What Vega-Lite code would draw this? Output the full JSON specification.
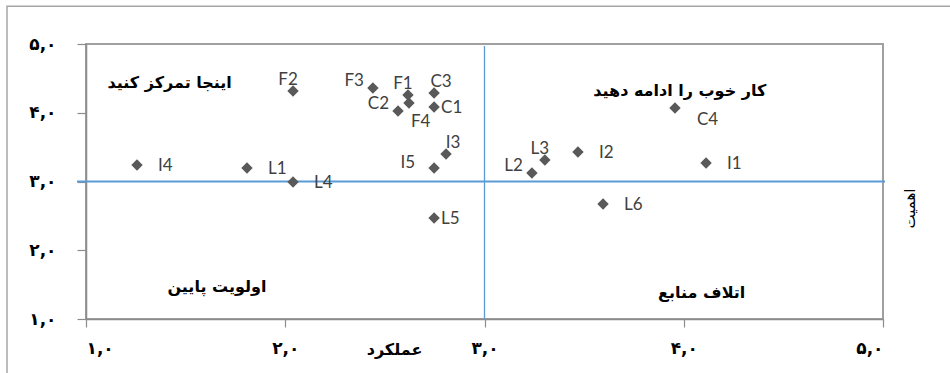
{
  "$schema": "https://vega.github.io/schema/vega-lite/v6.json",
  "autosize": {"type": "none"},
  "width": 797,
  "height": 275,
  "padding": {"left": 86, "top": 44, "right": 67, "bottom": 54},
  "background": "white",
  "config": {
    "view": {"stroke": "#a0a0a0", "strokeWidth": 2},
    "axis": {"grid": false}
  },
  "datasets": {
    "points": [
      {"label": "I4", "performance": 1.256, "importance": 3.24},
      {"label": "L1", "performance": 1.808, "importance": 3.196},
      {"label": "F2", "performance": 2.039, "importance": 4.316},
      {"label": "L4", "performance": 2.039, "importance": 2.993},
      {"label": "F3", "performance": 2.44, "importance": 4.36},
      {"label": "F1", "performance": 2.616, "importance": 4.258},
      {"label": "F4", "performance": 2.621, "importance": 4.142},
      {"label": "C2", "performance": 2.566, "importance": 4.025},
      {"label": "C3", "performance": 2.747, "importance": 4.287},
      {"label": "C1", "performance": 2.747, "importance": 4.084},
      {"label": "I3", "performance": 2.807, "importance": 3.4},
      {"label": "I5", "performance": 2.747, "importance": 3.196},
      {"label": "L5", "performance": 2.747, "importance": 2.469},
      {"label": "L2", "performance": 3.238, "importance": 3.124},
      {"label": "L3", "performance": 3.303, "importance": 3.313},
      {"label": "I2", "performance": 3.469, "importance": 3.429},
      {"label": "C4", "performance": 3.956, "importance": 4.069},
      {"label": "I1", "performance": 4.112, "importance": 3.269},
      {"label": "L6", "performance": 3.595, "importance": 2.673}
    ],
    "notes": [
      {"note": "اینجا تمرکز کنید", "performance": 1.42, "importance": 4.43},
      {"note": "کار خوب را ادامه دهید", "performance": 3.98, "importance": 4.32},
      {"note": "اولویت پایین", "performance": 1.657, "importance": 1.465},
      {"note": "اتلاف منابع", "performance": 4.09, "importance": 1.378}
    ],
    "refs": [
      {"perfMean": 3, "impMean": 3}
    ]
  },
  "layer": [
    {
      "data": {"name": "refs"},
      "mark": {"type": "rule", "color": "#5B9BD5", "strokeWidth": 1.3},
      "encoding": {
        "x": {
          "field": "perfMean", "type": "quantitative",
          "scale": {"domain": [1, 5], "nice": false, "zero": false},
          "axis": {
            "values": [1, 2, 3, 4, 5],
            "labelExpr": "['۰','۱','۲','۳','۴','۵','۶','۷','۸','۹'][floor(datum.value)] + ',' + '۰'",
            "labelFont": "DejaVu Sans", "labelFontSize": 17, "labelFontWeight": "bold", "labelColor": "#000000", "labelPadding": 13,
            "domainColor": "#8c8c8c", "domainWidth": 1.5, "tickColor": "#8c8c8c", "tickSize": 8, "tickWidth": 1.2,
            "title": "عملکرد", "titleFont": "DejaVu Sans", "titleFontSize": 16, "titleFontWeight": "bold",
            "titleColor": "#000000", "titleX": 308, "titleY": 30, "titleBaseline": "middle", "titleAlign": "center"
          }
        },
        "y": {
          "datum": 4.97,
          "type": "quantitative",
          "scale": {"domain": [1, 5], "nice": false, "zero": false},
          "axis": {
            "values": [1, 2, 3, 4, 5],
            "labelExpr": "['۰','۱','۲','۳','۴','۵','۶','۷','۸','۹'][floor(datum.value)] + ',' + '۰'",
            "labelFont": "DejaVu Sans", "labelFontSize": 17, "labelFontWeight": "bold", "labelColor": "#000000", "labelPadding": 21,
            "domainColor": "#8c8c8c", "domainWidth": 1.5, "tickColor": "#8c8c8c", "tickSize": 9, "tickWidth": 1.2,
            "title": "اهمیت", "titleFont": "DejaVu Sans", "titleFontSize": 15, "titleFontWeight": "normal",
            "titleColor": "#000000", "titleX": 823, "titleY": 164, "titleAngle": 270,
            "titleBaseline": "middle", "titleAlign": "center"
          }
        },
        "y2": {"datum": 1}
      }
    },
    {
      "data": {"name": "refs"},
      "mark": {"type": "rule", "color": "#5B9BD5", "strokeWidth": 2},
      "encoding": {
        "y": {"field": "impMean", "type": "quantitative"},
        "x": {"datum": 0.955},
        "x2": {"datum": 5.01}
      }
    },
    {
      "data": {"name": "refs"},
      "mark": {"type": "rect", "fillOpacity": 0, "fill": "white", "stroke": "#a6a6a6", "strokeWidth": 1.5},
      "encoding": {
        "x": {"datum": 0.6035}, "x2": {"datum": 6},
        "y": {"datum": 5.55}, "y2": {"datum": -1}
      }
    },
    {
      "data": {"name": "points"},
      "mark": {"type": "point", "shape": "diamond", "filled": true, "size": 130, "color": "#595959", "opacity": 1},
      "encoding": {
        "x": {"field": "performance", "type": "quantitative"},
        "y": {"field": "importance", "type": "quantitative"}
      }
    },
    {
      "data": {"name": "points"},
      "transform": [{"filter": {"field": "label", "oneOf": ["I4", "L1", "L4", "I2", "I1", "L6"]}}],
      "mark": {"type": "text", "align": "left", "baseline": "middle", "dx": 21, "dy": 1, "font": "Lato", "fontSize": 17, "color": "#404040"},
      "encoding": {"x": {"field": "performance", "type": "quantitative"}, "y": {"field": "importance", "type": "quantitative"}, "text": {"field": "label"}}
    },
    {
      "data": {"name": "points"},
      "transform": [{"filter": {"field": "label", "oneOf": ["C1", "L5"]}}],
      "mark": {"type": "text", "align": "left", "baseline": "middle", "dx": 7, "dy": 1, "font": "Lato", "fontSize": 17, "color": "#404040"},
      "encoding": {"x": {"field": "performance", "type": "quantitative"}, "y": {"field": "importance", "type": "quantitative"}, "text": {"field": "label"}}
    },
    {
      "data": {"name": "points"},
      "transform": [{"filter": {"field": "label", "oneOf": ["F2", "F1", "L3"]}}],
      "mark": {"type": "text", "align": "center", "baseline": "middle", "dx": -5, "dy": -11, "font": "Lato", "fontSize": 17, "color": "#404040"},
      "encoding": {"x": {"field": "performance", "type": "quantitative"}, "y": {"field": "importance", "type": "quantitative"}, "text": {"field": "label"}}
    },
    {
      "data": {"name": "points"},
      "transform": [{"filter": {"field": "label", "oneOf": ["I3", "C3"]}}],
      "mark": {"type": "text", "align": "center", "baseline": "middle", "dx": 7, "dy": -11, "font": "Lato", "fontSize": 17, "color": "#404040"},
      "encoding": {"x": {"field": "performance", "type": "quantitative"}, "y": {"field": "importance", "type": "quantitative"}, "text": {"field": "label"}}
    },
    {
      "data": {"name": "points"},
      "transform": [{"filter": {"field": "label", "oneOf": ["C2", "L2", "F3"]}}],
      "mark": {"type": "text", "align": "right", "baseline": "middle", "dx": -9, "dy": -7, "font": "Lato", "fontSize": 17, "color": "#404040"},
      "encoding": {"x": {"field": "performance", "type": "quantitative"}, "y": {"field": "importance", "type": "quantitative"}, "text": {"field": "label"}}
    },
    {
      "data": {"name": "points"},
      "transform": [{"filter": {"field": "label", "oneOf": ["I5"]}}],
      "mark": {"type": "text", "align": "right", "baseline": "middle", "dx": -19, "dy": -5, "font": "Lato", "fontSize": 17, "color": "#404040"},
      "encoding": {"x": {"field": "performance", "type": "quantitative"}, "y": {"field": "importance", "type": "quantitative"}, "text": {"field": "label"}}
    },
    {
      "data": {"name": "points"},
      "transform": [{"filter": {"field": "label", "oneOf": ["C4"]}}],
      "mark": {"type": "text", "align": "left", "baseline": "middle", "dx": 22, "dy": 12, "font": "Lato", "fontSize": 17, "color": "#404040"},
      "encoding": {"x": {"field": "performance", "type": "quantitative"}, "y": {"field": "importance", "type": "quantitative"}, "text": {"field": "label"}}
    },
    {
      "data": {"name": "points"},
      "transform": [{"filter": {"field": "label", "oneOf": ["F4"]}}],
      "mark": {"type": "text", "align": "left", "baseline": "middle", "dx": 2, "dy": 19, "font": "Lato", "fontSize": 17, "color": "#404040"},
      "encoding": {"x": {"field": "performance", "type": "quantitative"}, "y": {"field": "importance", "type": "quantitative"}, "text": {"field": "label"}}
    },
    {
      "data": {"name": "notes"},
      "mark": {"type": "text", "align": "center", "baseline": "middle", "font": "DejaVu Sans", "fontSize": 16, "fontWeight": "bold", "color": "#000000"},
      "encoding": {"x": {"field": "performance", "type": "quantitative"}, "y": {"field": "importance", "type": "quantitative"}, "text": {"field": "note"}}
    }
  ]
}
